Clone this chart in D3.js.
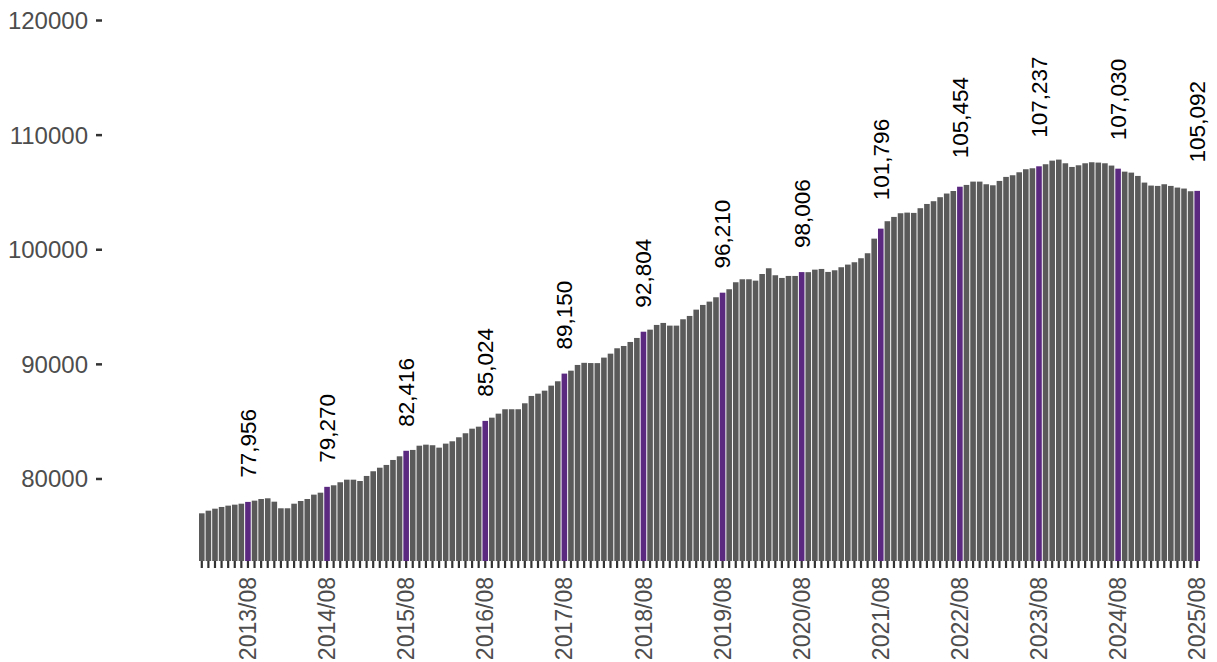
<!DOCTYPE html>
<html>
<head>
<meta charset="utf-8">
<script src="https://cdn.jsdelivr.net/npm/d3@7"></script>
<style>
  body { margin: 0; background: #fff; }
  svg { display: block; font-family: "Liberation Sans", Arial, sans-serif; }
</style>
</head>
<body>
<svg id="chart" width="1217" height="662"></svg>
<script>
// monthly totals, 2013/01 .. 2025/08
const startMonth = new Date(2013, 0, 1);
const values = [
  76960, 77190, 77365, 77515, 77630, 77715, 77800, 77956, 78065, 78210, 78270, 77975,
  77400, 77400, 77800, 78035, 78210, 78590, 78760, 79270, 79405, 79670, 79895, 79895,
  79780, 80220, 80630, 80940, 81180, 81615, 81935, 82416, 82490, 82860, 82950, 82900,
  82690, 83040, 83245, 83595, 83945, 84345, 84520, 85024, 85305, 85655, 86040, 86040,
  86040, 86560, 87200, 87400, 87660, 88100, 88480, 89150, 89405, 89905, 90090, 90070,
  90065, 90545, 90890, 91360, 91560, 91910, 92260, 92804, 92985, 93395, 93570, 93335,
  93335, 93890, 94180, 94730, 95140, 95430, 95810, 96210, 96510, 97120, 97380, 97380,
  97260, 97840, 98340, 97730, 97495, 97670, 97670, 98006, 98000, 98220, 98280, 98020,
  98165, 98430, 98660, 98865, 99215, 99650, 100925, 101796, 102445, 102820, 103140, 103195,
  103170, 103580, 103950, 104190, 104540, 104860, 105080, 105454, 105610, 105900, 105900, 105670,
  105580, 105960, 106310, 106455, 106715, 106980, 107065, 107237, 107415, 107730, 107820, 107500,
  107180, 107325, 107500, 107590, 107560, 107500, 107300, 107030, 106770, 106685, 106395, 105815,
  105555, 105525, 105670, 105525, 105380, 105295, 105060, 105092
];
const tickLabels = ['2013/08', '2014/08', '2015/08', '2016/08', '2017/08', '2018/08', '2019/08',
  '2020/08', '2021/08', '2022/08', '2023/08', '2024/08', '2025/08'];
const yTicks = [80000, 90000, 100000, 110000, 120000];

const fmtMonth = d3.timeFormat('%Y/%m');
const months = d3.timeMonth.range(startMonth, d3.timeMonth.offset(startMonth, values.length)).map(fmtMonth);
const data = months.map((m, i) => ({ month: m, value: values[i], hl: tickLabels.includes(m) }));

const svg = d3.select('#chart');

const x = d3.scaleBand()
  .domain(months)
  .range([199, 1200])
  .paddingInner(0.15);

const y = d3.scaleLinear()
  .domain([72800, 120000])
  .range([561, 20]);

// bars
svg.append('g')
  .selectAll('rect')
  .data(data)
  .join('rect')
    .attr('x', d => x(d.month))
    .attr('y', d => y(d.value))
    .attr('width', x.bandwidth())
    .attr('height', d => y.range()[0] - y(d.value))
    .attr('fill', d => d.hl ? '#5b2a80' : '#5a5a5a');

// y axis
const yAxis = svg.append('g')
  .attr('transform', 'translate(102,0)')
  .call(d3.axisLeft(y).tickValues(yTicks).tickSize(6).tickPadding(8).tickFormat(d3.format('d')));
yAxis.select('.domain').remove();
yAxis.selectAll('line').attr('stroke', '#333').attr('stroke-width', 2.5);
yAxis.selectAll('text').attr('fill', '#4d4d4d').style('font-size', '24px').attr('dy', '0.35em');

// x axis: a tick under every month, label only in August
const xAxis = svg.append('g')
  .attr('transform', `translate(0,${y.range()[0]})`)
  .call(d3.axisBottom(x).tickSize(7).tickFormat(d => tickLabels.includes(d) ? d : ''));
xAxis.select('.domain').remove();
xAxis.selectAll('line').attr('stroke', '#333').attr('stroke-width', 2.2);
xAxis.selectAll('text')
  .attr('fill', '#4d4d4d')
  .style('font-size', '23px')
  .attr('transform', 'rotate(-90)')
  .attr('text-anchor', 'end')
  .attr('x', -16)
  .attr('y', 0)
  .attr('dy', '0.35em');

// value labels above highlighted bars
const fmtValue = d3.format(',');
svg.append('g')
  .selectAll('text')
  .data(data.filter(d => d.hl))
  .join('text')
    .text(d => fmtValue(d.value))
    .style('font-size', '22.5px')
    .attr('fill', '#000')
    .attr('text-anchor', 'start')
    .attr('dy', '0.35em')
    .each(function(d) {
      const len = this.getComputedTextLength();
      const cx = x(d.month) + x.bandwidth() / 2;
      d3.select(this).attr('transform', `translate(${cx},${y(d.value) - 0.35 * len}) rotate(-90)`);
    });
</script>
</body>
</html>
